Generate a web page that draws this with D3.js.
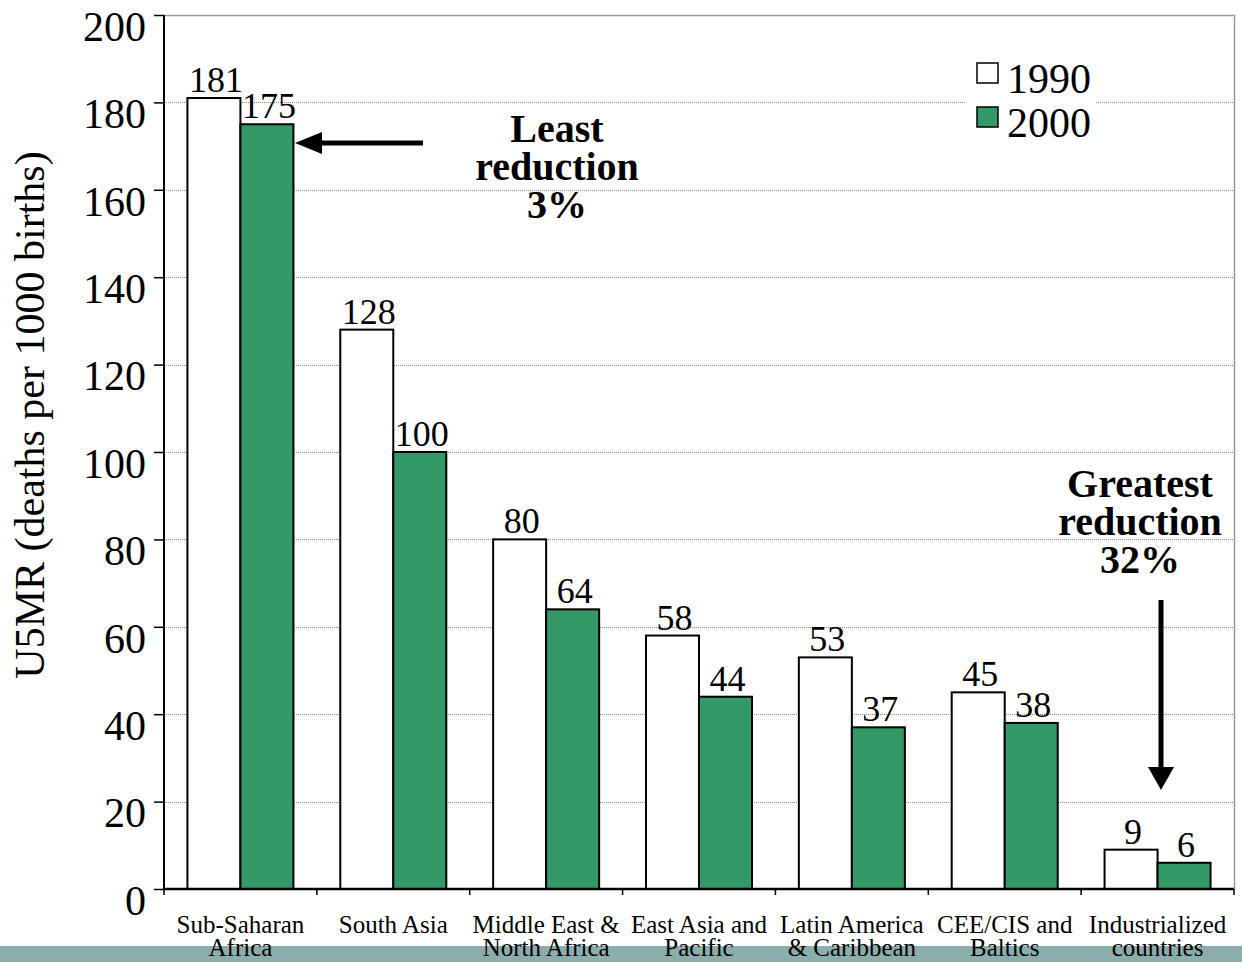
<!DOCTYPE html>
<html>
<head>
<meta charset="utf-8">
<script src="https://cdn.jsdelivr.net/npm/d3@7/dist/d3.min.js"></script>
<style>
  html, body { margin: 0; padding: 0; background: #fff; }
  svg { display: block; font-family: "Liberation Serif", "Times New Roman", serif; }
</style>
</head>
<body>
<svg id="chart" width="1242" height="962"></svg>
<script>
// Under-five mortality rate by region, 1990 vs 2000
const categories = [
  ["Sub-Saharan", "Africa"],
  ["South Asia"],
  ["Middle East &", "North Africa"],
  ["East Asia and", "Pacific"],
  ["Latin America", "& Caribbean"],
  ["CEE/CIS and", "Baltics"],
  ["Industrialized", "countries"]
];
const seriesNames = ["1990", "2000"];
const values1990 = [181, 128, 80, 58, 53, 45, 9];
const values2000 = [175, 100, 64, 44, 37, 38, 6];
const yTicks = [0, 20, 40, 60, 80, 100, 120, 140, 160, 180, 200];
const yTitle = "U5MR (deaths per 1000 births)";
const noteLeast = ["Least", "reduction", "3%"];
const noteGreatest = ["Greatest", "reduction", "32%"];

const colors = { "1990": "#ffffff", "2000": "#339966" };

(function draw() {
const svg = d3.select("#chart");
const plotL = 164, plotR = 1234, plotT = 15, plotB = 889;

const keys = categories.map(c => c.join(" "));
const x = d3.scaleBand().domain(keys).range([plotL, plotR]).padding(0);
const xi = d3.scaleBand().domain(seriesNames).range([0, x.bandwidth()]).paddingInner(0).paddingOuter(0.442);
const y = d3.scaleLinear().domain([0, 200]).range([plotB, plotT]);

// bottom strip
svg.append("rect").attr("x", 0).attr("y", 946).attr("width", 1242).attr("height", 16).attr("fill", "#8badac");

// gridlines
svg.append("g").selectAll("line").data(yTicks.filter(t => t > 0 && t < 200)).join("line")
  .attr("x1", plotL).attr("x2", plotR)
  .attr("y1", d => Math.round(y(d)) + 0.5).attr("y2", d => Math.round(y(d)) + 0.5)
  .attr("stroke", "#888").attr("stroke-width", 1).attr("stroke-dasharray", "1,1");

// plot frame (top and right)
svg.append("path")
  .attr("d", `M${plotL},${plotT + 0.5}H${plotR + 0.5}V${plotB}`)
  .attr("fill", "none").attr("stroke", "#999").attr("stroke-width", 1.5);

// bars
const rows = keys.map((k, i) => ({ key: k, vals: [values1990[i], values2000[i]] }));
const groups = svg.append("g").selectAll("g").data(rows).join("g")
  .attr("transform", d => `translate(${x(d.key)},0)`);
groups.selectAll("rect").data(d => d.vals.map((v, j) => ({ s: seriesNames[j], v }))).join("rect")
  .attr("x", d => xi(d.s)).attr("width", xi.bandwidth())
  .attr("y", d => y(d.v)).attr("height", d => y(0) - y(d.v))
  .attr("fill", d => colors[d.s]).attr("stroke", "#000").attr("stroke-width", 2);
groups.selectAll("text").data(d => d.vals.map((v, j) => ({ s: seriesNames[j], v }))).join("text")
  .attr("x", d => xi(d.s) + xi.bandwidth() / 2 + 2).attr("y", d => y(d.v) - 6)
  .attr("text-anchor", "middle").attr("font-size", 36).attr("fill", "#000")
  .text(d => d.v);

// y axis
const yAxis = svg.append("g").attr("transform", `translate(${plotL},0)`)
  .call(d3.axisLeft(y).tickValues(yTicks).tickSize(10).tickPadding(0).tickFormat(d3.format("d")));
yAxis.select(".domain").attr("stroke", "#000").attr("stroke-width", 2).attr("d", `M0,${plotT}V${plotB}`);
yAxis.selectAll(".tick line").attr("stroke", "#000").attr("stroke-width", 1.5);
yAxis.selectAll(".tick text").attr("font-size", 42).attr("font-family", "Liberation Serif")
  .attr("x", -18).attr("dy", "0.6em").attr("fill", "#000");

// x axis
svg.append("line").attr("x1", plotL).attr("x2", plotR).attr("y1", plotB).attr("y2", plotB)
  .attr("stroke", "#000").attr("stroke-width", 2.5);
const boundaries = keys.map(k => x(k)).concat([plotR]);
svg.append("g").selectAll("line").data(boundaries).join("line")
  .attr("x1", d => d).attr("x2", d => d).attr("y1", plotB).attr("y2", plotB + 6)
  .attr("stroke", "#000").attr("stroke-width", 1.5);

// category labels
const catLabels = svg.append("g").selectAll("text").data(categories).join("text")
  .attr("text-anchor", "middle").attr("font-size", 25).attr("fill", "#000")
  .attr("transform", d => `translate(${x(d.join(" ")) + x.bandwidth() / 2},933)`);
catLabels.selectAll("tspan").data(d => d).join("tspan")
  .attr("x", 0).attr("y", (d, i) => i * 23).text(d => d);

// y title
svg.append("text")
  .attr("transform", `translate(44,415) rotate(-90)`)
  .attr("text-anchor", "middle").attr("font-size", 42).attr("fill", "#000")
  .text(yTitle);

// legend
const legend = svg.append("g");
legend.append("rect").attr("x", 966).attr("y", 60).attr("width", 130).attr("height", 84).attr("fill", "#fff");
const legItems = legend.selectAll("g").data(seriesNames).join("g")
  .attr("transform", (d, i) => `translate(977,${63 + i * 44})`);
legItems.append("rect").attr("width", 21).attr("height", 20)
  .attr("fill", d => colors[d]).attr("stroke", "#000").attr("stroke-width", 1.5);
legItems.append("text").attr("x", 30).attr("y", 30).attr("font-size", 42).attr("fill", "#000").text(d => d);

// annotations
function note(lines, cx, y0) {
  svg.append("text").attr("text-anchor", "middle").attr("font-weight", "bold")
    .attr("font-size", 40).attr("fill", "#000")
    .selectAll("tspan").data(lines).join("tspan")
    .attr("x", cx).attr("y", (d, i) => y0 + i * 38).text(d => d);
}
note(noteLeast, 557, 142);
note(noteGreatest, 1140, 497);

// arrows
svg.append("line").attr("x1", 423).attr("x2", 318).attr("y1", 143).attr("y2", 143)
  .attr("stroke", "#000").attr("stroke-width", 5);
svg.append("path").attr("d", "M295,143L322,132L322,154Z").attr("fill", "#000");
svg.append("line").attr("x1", 1161).attr("x2", 1161).attr("y1", 600).attr("y2", 772)
  .attr("stroke", "#000").attr("stroke-width", 5);
svg.append("path").attr("d", "M1161,790L1148,767L1174,767Z").attr("fill", "#000");
})();
</script>
</body>
</html>
